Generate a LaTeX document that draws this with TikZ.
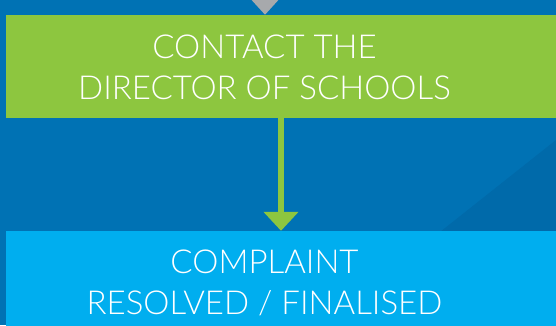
\documentclass[tikz,border=0pt]{standalone}
\usepackage{fontspec}
\newfontfamily\boxfont{Lato Light}
\usepackage{xcolor}
\usetikzlibrary{arrows.meta, positioning}
\definecolor{bgblue}{RGB}{0,114,180}
\definecolor{bgdark}{RGB}{0,106,170}
\definecolor{stepgreen}{RGB}{141,198,63}
\definecolor{stepblue}{RGB}{0,174,239}
\definecolor{arrowgray}{RGB}{167,169,172}
\tikzset{
    stage/.style={
        rectangle,
        draw=none,
        minimum width=550pt,
        minimum height=103pt,
        inner sep=0pt,
        text=white,
        font=\boxfont\fontsize{33}{41}\selectfont
    },
    flow/.style={
        draw=stepgreen,
        line width=6pt,
        -{Triangle[width=34pt,length=19pt]}
    },
    inflow/.style={
        draw=arrowgray,
        line width=6pt,
        -{Triangle[width=35pt,length=20pt]}
    }
}
\newcommand{\stagetext}[1]{\rule[-41pt]{0pt}{82pt}\raisebox{-32.5pt}{\smash{\begin{tabular}[b]{@{}c@{}}#1\end{tabular}}}\hspace*{33pt}}

\begin{document}
\begin{tikzpicture}[x=1pt, y=1pt]
\useasboundingbox (0,0) rectangle (556,325);
\clip (0,0) rectangle (556,325);

% Background
\fill[bgblue] (0,0) rectangle (556,325);
\fill[bgdark] (440,93) -- (556,185) -- (556,93) -- cycle;

% Steps
\node[stage, fill=stepgreen] (director) at (281,258.5) {\stagetext{CONTACT THE\\DIRECTOR OF SCHOOLS}};
\node[stage, fill=stepblue, minimum height=102pt] (resolved) at (281,43) {\stagetext{COMPLAINT\\RESOLVED / FINALISED}};

% Arrow from the step above
\coordinate (prev) at (265,360);
\draw[inflow] (prev) -- (prev |- director.north);

% Connector
\draw[flow] (director) -- (resolved);

\end{tikzpicture}
\end{document}
